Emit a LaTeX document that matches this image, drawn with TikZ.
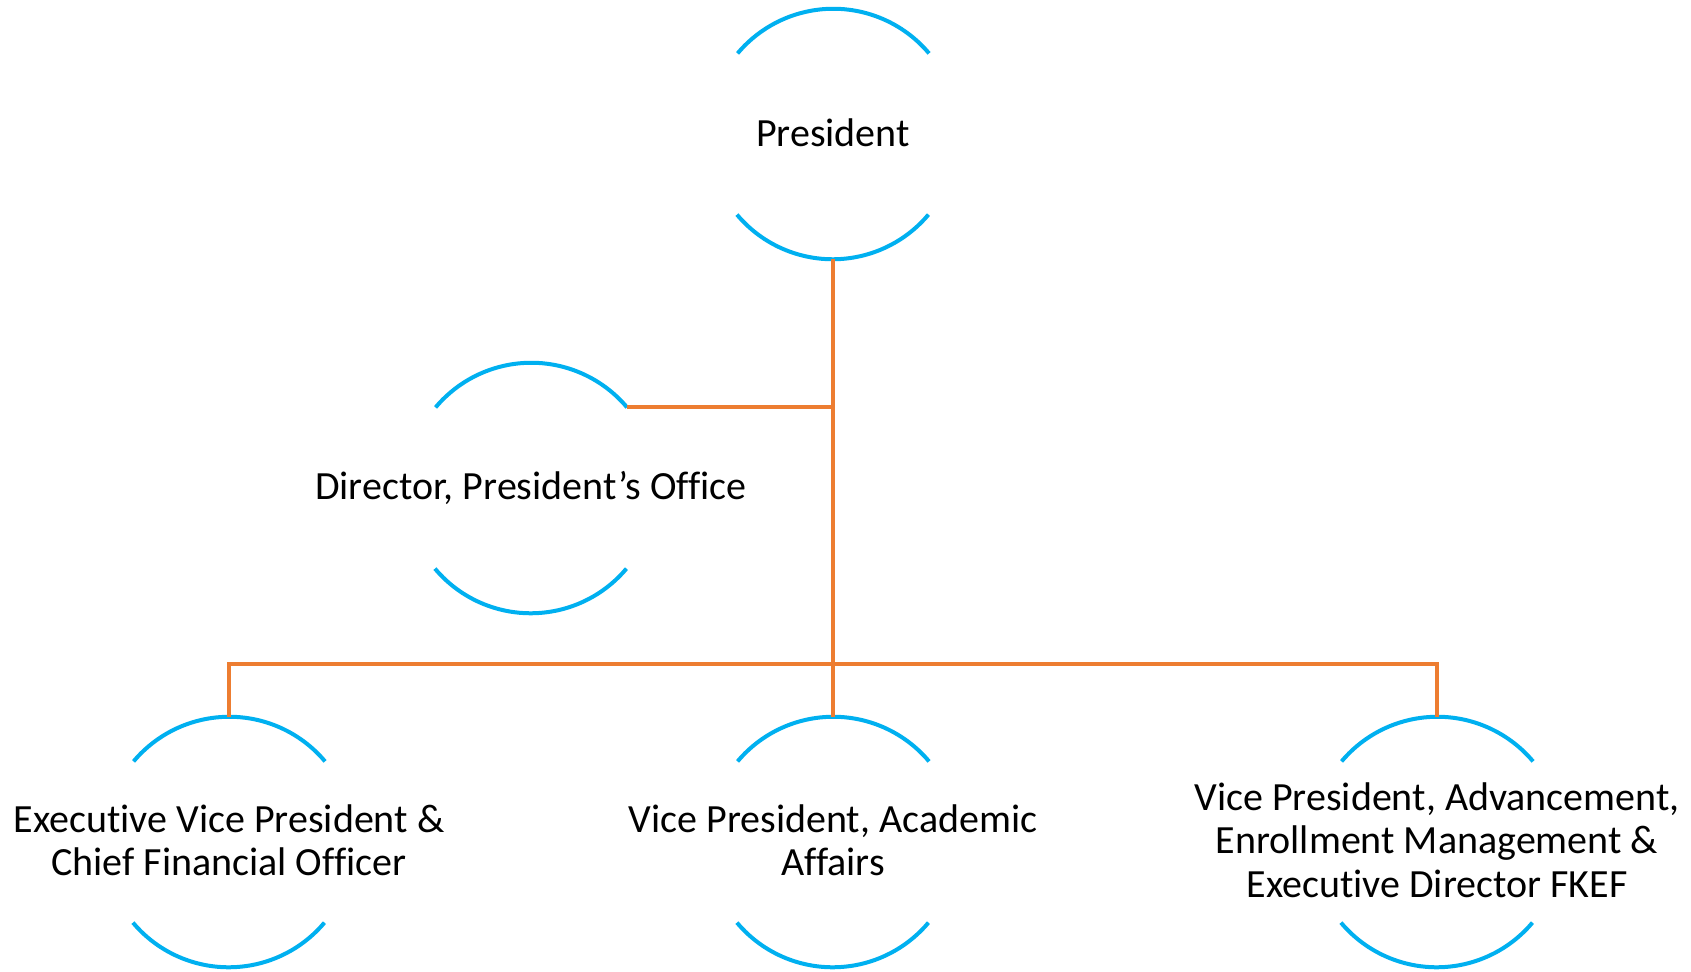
\documentclass[tikz,border=0pt]{standalone}
\usepackage{fontspec}
\setmainfont{Carlito}[Ligatures=NoCommon]
\definecolor{arcblue}{HTML}{00B0F0}
\definecolor{lineorange}{HTML}{ED7D31}
\begin{document}
\begin{tikzpicture}[x=0.5pt,y=-0.5pt,
  member/.style={circle,minimum size=125pt,inner sep=0pt,draw=none},
  title/.style={align=center,inner sep=0pt,text=black,font=\fontsize{20pt}{21.75pt}\selectfont},
  rim/.style={draw=arcblue,line width=2pt},
  link/.style={draw=lineorange,line width=2pt}]
\useasboundingbox[fill=white] (0,0) rectangle (1691,971);
% nodes
\node[member] (pres) at (833,134) {};
\node[member] (dir)  at (531,488) {};
\node[member] (evp)  at (229,842) {};
\node[member] (vpaa) at (833,842) {};
\node[member] (vpadv) at (1437,842) {};
\node[title] (presT) at ([yshift=0.5pt]pres.center) {President};
\node[title] (dirT) at (dir.center) {Director, President’s Office};
\node[title] (evpT) at ([yshift=1pt]evp.center) {Executive Vice President \&\\Chief Financial Officer};
\node[title] (vpaaT) at ([yshift=1pt]vpaa.center) {Vice President, Academic\\Affairs};
\node[title] (vpadvT) at ([yshift=1pt]vpadv.center) {Vice President, Advancement,\\Enrollment Management \&\\Executive Director FKEF};
% arcs
\foreach \n in {pres,dir,evp,vpaa,vpadv}{
  \draw[rim] (\n.40) arc[start angle=40,end angle=140,radius=62.5pt];
  \draw[rim] (\n.220) arc[start angle=220,end angle=320,radius=62.5pt];
}
% connectors
\coordinate (bar) at (833,664);
\draw[link] (pres.south) -- (vpaa.north);
\draw[link] (dir.40) -- (dir.40 -| pres.south);
\draw[link] (evp.north) |- (bar) -| (vpadv.north);
\end{tikzpicture}
\end{document}
